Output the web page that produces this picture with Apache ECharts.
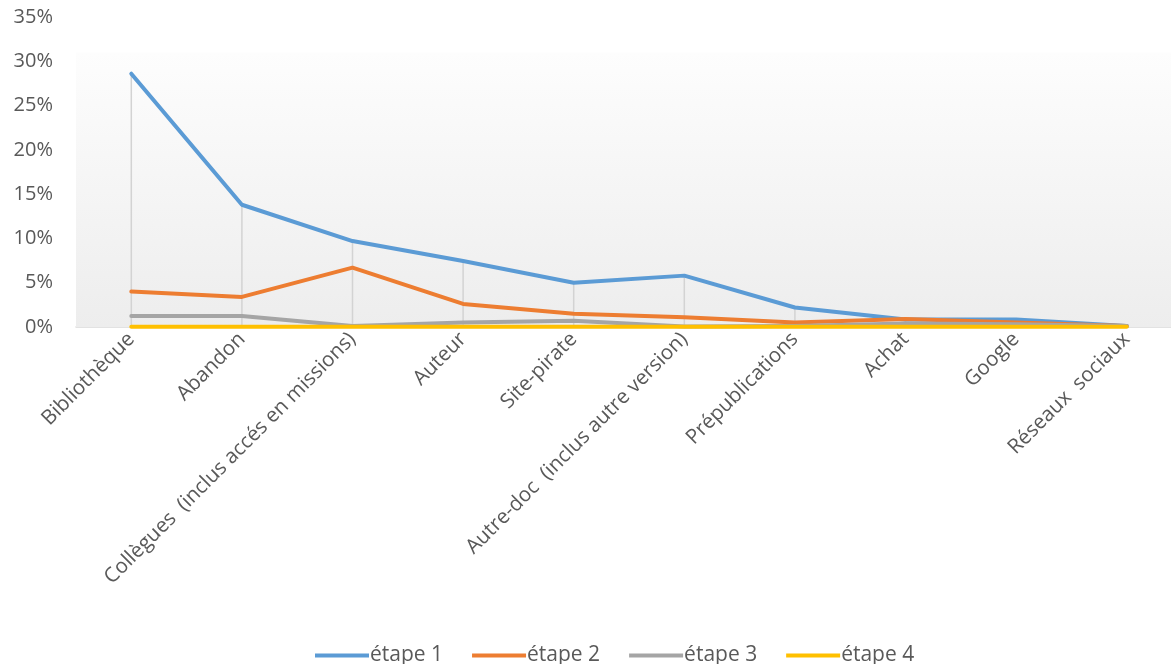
<!DOCTYPE html>
<html>
<head>
<meta charset="utf-8">
<script src="https://cdn.jsdelivr.net/npm/echarts@6/dist/echarts.min.js"></script>
<style>html,body{margin:0;padding:0;background:#fff}#c{width:1171px;height:664px}</style>
</head>
<body>
<div id="c"></div>
<script>
const categories = ["Bibliothèque","Abandon","Collègues  (inclus accés en missions)","Auteur","Site-pirate","Autre-doc  (inclus autre version)","Prépublications","Achat","Google","Réseaux  sociaux"];
const seriesNames = ["étape 1","étape 2","étape 3","étape 4"];
const etape1 = [0.286,0.138,0.097,0.0745,0.050,0.058,0.022,0.0085,0.0085,0.001];
const etape2 = [0.040,0.034,0.067,0.026,0.015,0.011,0.005,0.009,0.005,0.001];
const etape3 = [0.0124,0.0124,0.001,0.005,0.007,0.0005,0.001,0.004,0.003,0.001];
const etape4 = [0.0003,0.0003,0.0003,0.0003,0.0003,0.0003,0.0003,0.0003,0.0003,0.0003];
const yTicks = {min:0,max:0.35,interval:0.05};
const colors = ["#5b9bd5","#ed7d31","#a5a5a5","#ffc000"];
const FONT = "'Open Sans', 'Noto Sans', sans-serif";

const chart = echarts.init(document.getElementById('c'));
const values = [etape1,etape2,etape3,etape4];
const lineSeries = seriesNames.map((n,i)=>({
  name:n, type:'line', data:values[i], symbol:'none', z:3+i,
  lineStyle:{width:4,color:colors[i],cap:'round',join:'round'},
  itemStyle:{color:colors[i]}
}));
chart.setOption({
  animation:false,
  color:colors,
  grid:{left:76,width:1106,top:17,bottom:337,containLabel:false,outerBoundsMode:'none'},
  legend:{data:seriesNames,top:640,left:310,icon:'rect',itemWidth:54,itemHeight:4,itemGap:29,
    textStyle:{fontFamily:FONT,fontSize:21,color:'#595959',padding:[0,0,0,-4]}},
  xAxis:{type:'category',data:categories,boundaryGap:true,
    axisLine:{lineStyle:{color:'#d9d9d9',width:1.5}},axisTick:{show:false},
    axisLabel:{rotate:45,interval:0,fontFamily:FONT,fontSize:20.5,color:'#595959',margin:9}},
  yAxis:{type:'value',min:yTicks.min,max:yTicks.max,interval:yTicks.interval,
    splitLine:{show:false},axisLine:{show:false},axisTick:{show:false},
    axisLabel:{fontFamily:FONT,fontSize:20,color:'#595959',margin:23,formatter:v=>Math.round(v*100)+'%'}},
  series:[
    {name:'drop',type:'bar',data:etape1,barWidth:1.5,z:1,silent:true,itemStyle:{color:'#d3d3d3'},
      markArea:{silent:true,itemStyle:{color:new echarts.graphic.LinearGradient(0,0,0,1,[{offset:0,color:'#fdfdfd'},{offset:1,color:'#ededed'}])},
        data:[[{yAxis:0.31},{yAxis:0}]]}},
    ...lineSeries
  ]
});
</script>
</body>
</html>
